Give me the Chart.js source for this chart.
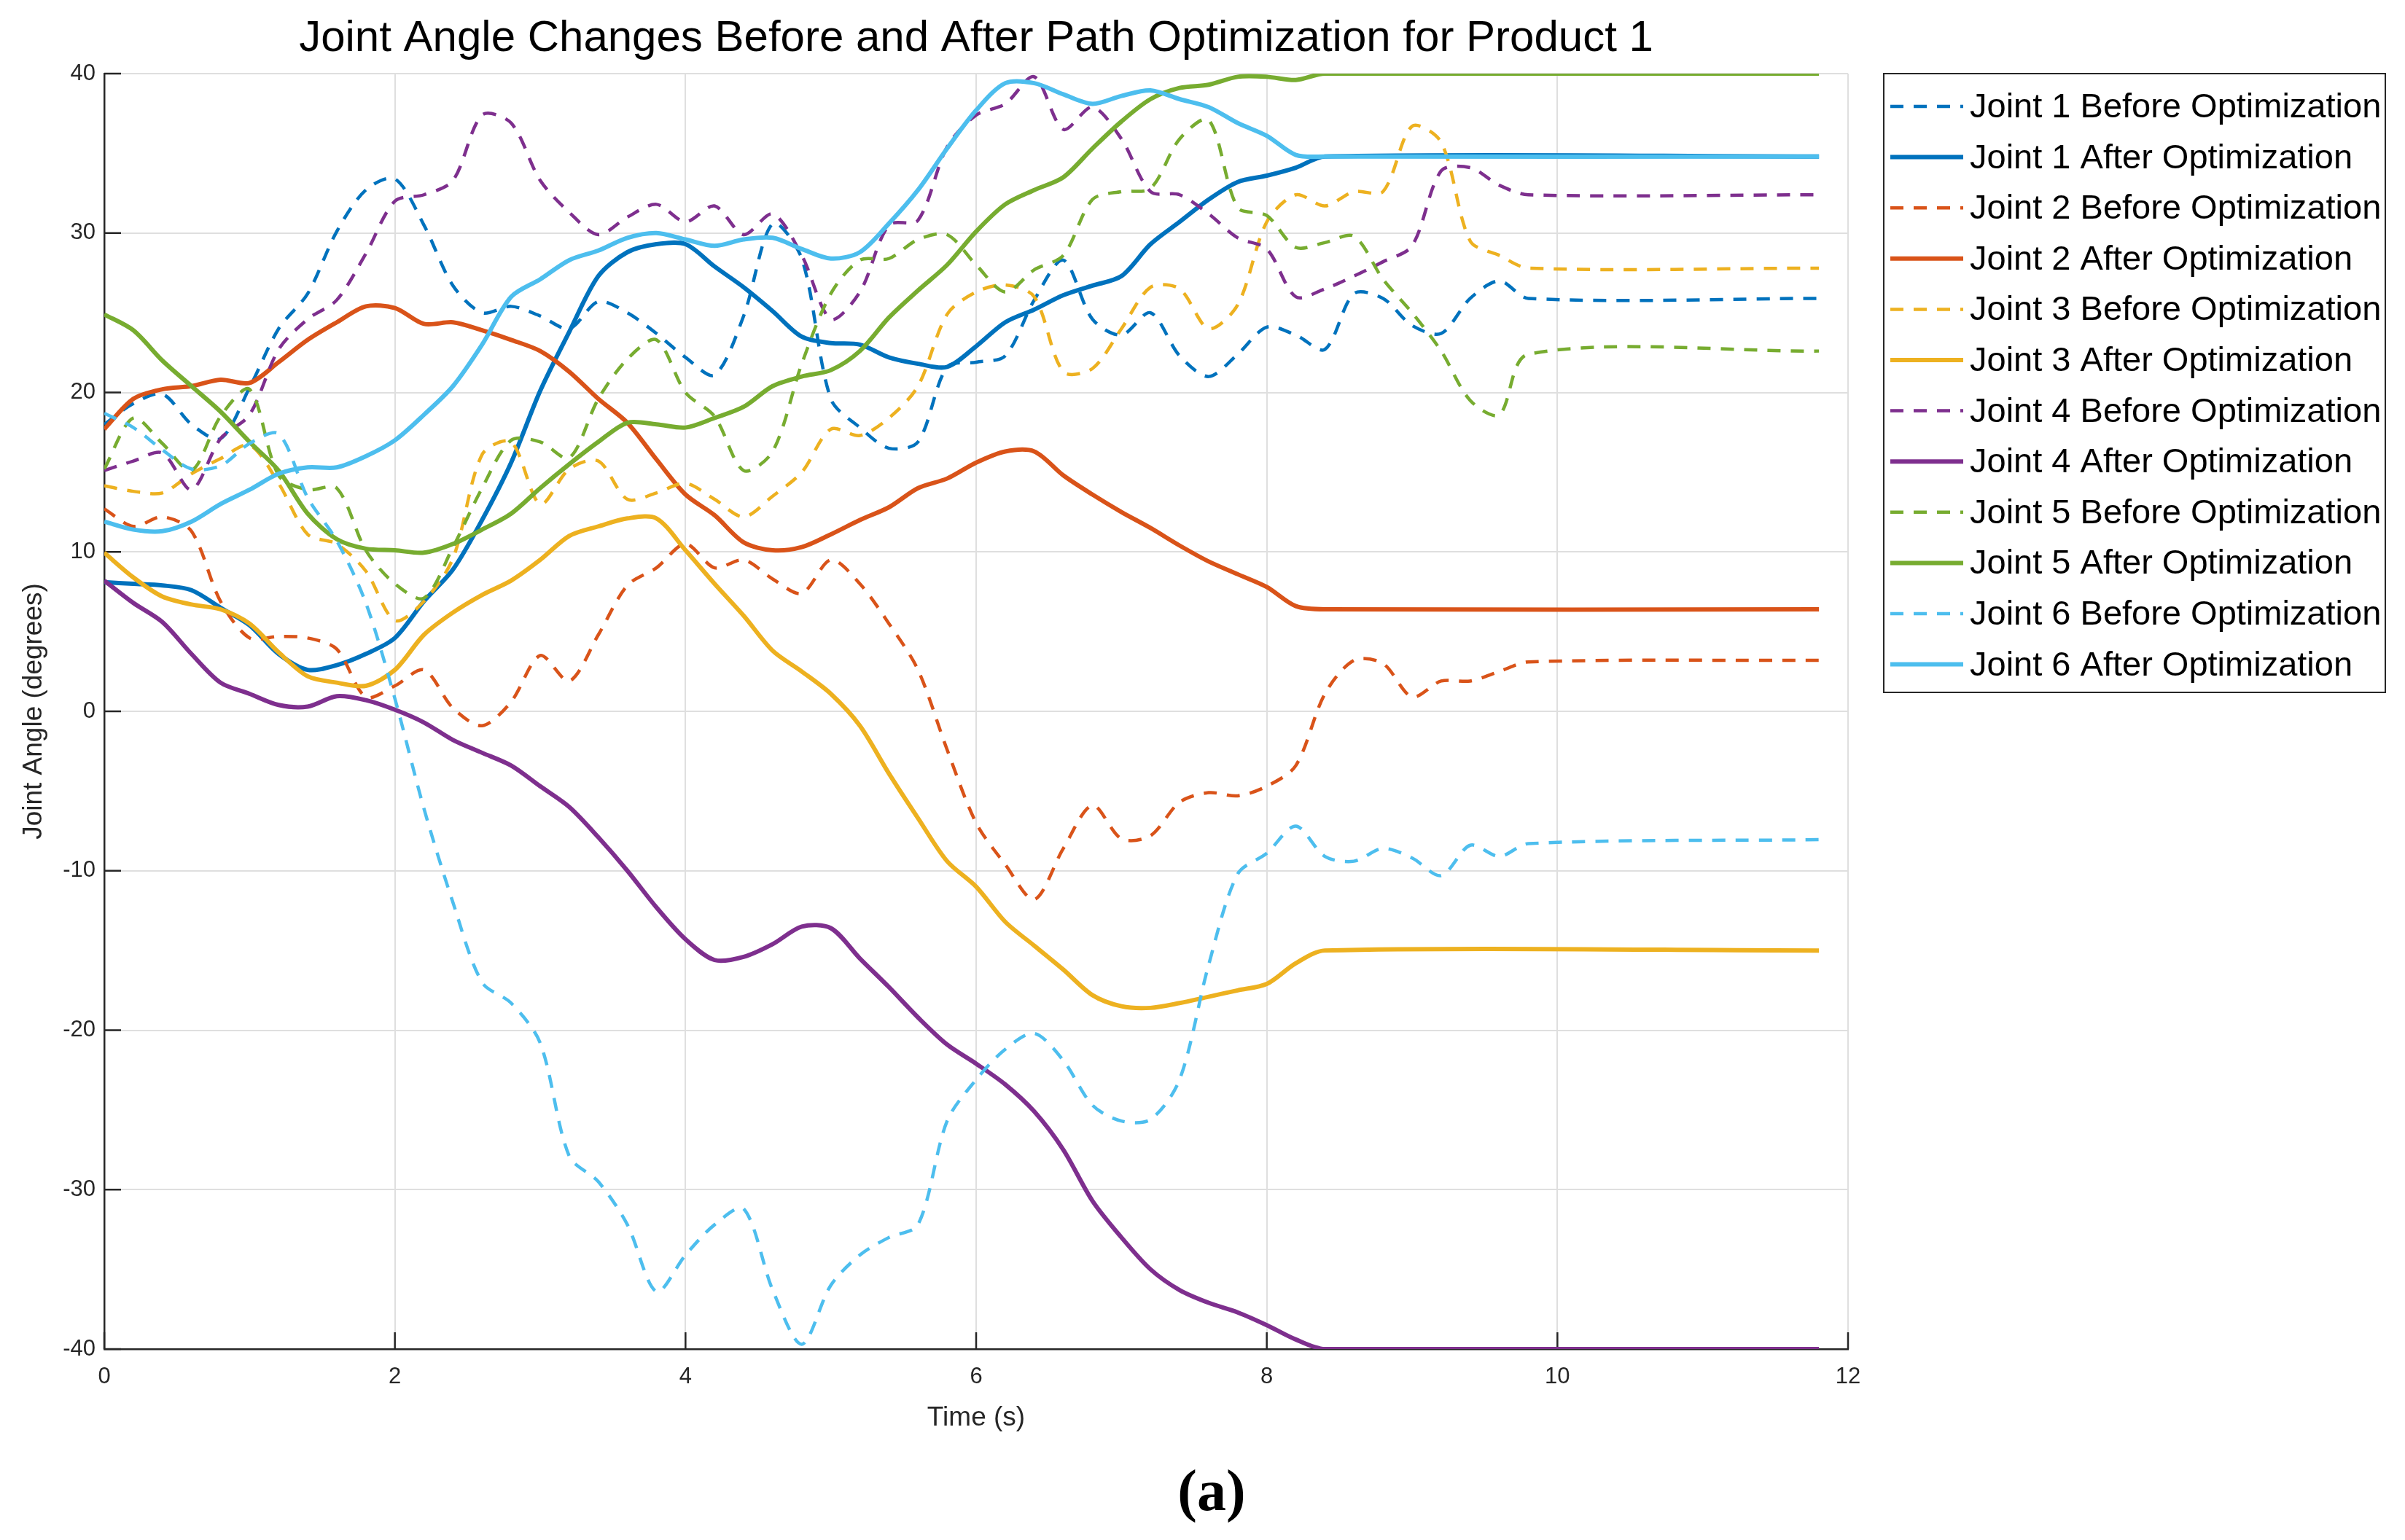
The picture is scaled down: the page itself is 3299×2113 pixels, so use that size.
<!DOCTYPE html>
<html>
<head>
<meta charset="utf-8">
<title>Joint Angle Changes</title>
<script src="https://cdn.jsdelivr.net/npm/chart.js@4.4.1/dist/chart.umd.min.js"></script>
<style>
  html, body { margin: 0; padding: 0; background: #fff; }
  canvas { display: block; }
</style>
</head>
<body>
<canvas id="jointChart" width="3299" height="2113"></canvas>
<script>
// time axis (s) - "before" runs are sampled until 9.8 s, "after" runs until 8.4 s, then both hold to the end
const timeBefore = [0, 0.2, 0.4, 0.6, 0.8, 1.0, 1.2, 1.4, 1.6, 1.8, 2.0, 2.2, 2.4, 2.6, 2.8, 3.0, 3.2, 3.4, 3.6, 3.8,
    4.0, 4.2, 4.4, 4.6, 4.8, 5.0, 5.2, 5.4, 5.6, 5.8, 6.0, 6.2, 6.4, 6.6, 6.8, 7.0, 7.2, 7.4, 7.6, 7.8,
    8.0, 8.2, 8.4, 8.6, 8.8, 9.0, 9.2, 9.4, 9.6, 9.8, 11.8];
const timeAfter = [0, 0.2, 0.4, 0.6, 0.8, 1.0, 1.2, 1.4, 1.6, 1.8, 2.0, 2.2, 2.4, 2.6, 2.8, 3.0, 3.2, 3.4, 3.6, 3.8,
    4.0, 4.2, 4.4, 4.6, 4.8, 5.0, 5.2, 5.4, 5.6, 5.8, 6.0, 6.2, 6.4, 6.6, 6.8, 7.0, 7.2, 7.4, 7.6, 7.8,
    8.0, 8.2, 8.4, 11.8];

// joint angles (degrees)
const joint1Before = [18.0, 19.3, 19.9, 18.0, 17.1, 20.3, 24.0, 26.2, 30.1, 32.7, 33.4, 30.5, 26.7, 25.0, 25.4, 24.8, 24.0, 25.7, 25.0, 23.7,
    22.2, 21.1, 24.8, 30.6, 28.4, 19.6, 17.8, 16.5, 16.9, 21.6, 21.9, 22.3, 25.8, 28.3, 24.6, 23.6, 25.0, 22.3, 21.0, 22.4,
    24.1, 23.6, 22.7, 26.2, 25.9, 24.2, 23.7, 25.9, 27.0, 25.9, 25.9];
const joint1After = [8.1, 8.0, 7.9, 7.6, 6.5, 5.4, 3.6, 2.6, 2.9, 3.6, 4.6, 6.9, 8.9, 12.0, 15.6, 20.1, 23.8, 27.3, 28.8, 29.3,
    29.3, 27.9, 26.6, 25.1, 23.5, 23.1, 23.0, 22.2, 21.8, 21.6, 22.9, 24.4, 25.2, 26.1, 26.7, 27.3, 29.3, 30.7, 32.1, 33.2,
    33.6, 34.1, 34.8, 34.8];
const joint2Before = [12.7, 11.6, 12.2, 11.3, 6.9, 4.6, 4.7, 4.6, 3.9, 0.9, 1.6, 2.6, 0.2, -0.9, 0.6, 3.5, 1.9, 4.8, 7.9, 9.0,
    10.5, 9.0, 9.5, 8.3, 7.4, 9.5, 8.0, 5.5, 2.6, -2.4, -7.0, -9.6, -11.8, -8.6, -5.9, -8.0, -7.8, -5.7, -5.1, -5.3,
    -4.7, -3.4, 1.1, 3.2, 3.0, 0.9, 1.9, 1.9, 2.5, 3.1, 3.2];
const joint2After = [17.7, 19.6, 20.2, 20.4, 20.8, 20.6, 21.9, 23.3, 24.4, 25.4, 25.3, 24.3, 24.4, 23.9, 23.3, 22.6, 21.3, 19.6, 18.1, 15.8,
    13.6, 12.3, 10.6, 10.1, 10.3, 11.1, 12.0, 12.8, 14.0, 14.6, 15.6, 16.3, 16.3, 14.8, 13.6, 12.5, 11.5, 10.4, 9.4, 8.6,
    7.8, 6.6, 6.4, 6.4];
const joint3Before = [14.15, 13.8, 13.7, 14.9, 15.85, 16.7, 14.3, 11.1, 10.5, 8.8, 5.7, 6.9, 9.6, 16.1, 16.9, 13.0, 15.2, 15.7, 13.3, 13.7,
    14.3, 13.3, 12.2, 13.5, 15.0, 17.7, 17.3, 18.4, 20.4, 24.9, 26.3, 26.75, 26.0, 21.3, 21.5, 24.0, 26.6, 26.5, 24.0, 25.5,
    30.7, 32.4, 31.7, 32.6, 32.6, 36.7, 35.7, 29.5, 28.6, 27.8, 27.8];
const joint3After = [9.95, 8.4, 7.2, 6.7, 6.4, 5.5, 3.7, 2.2, 1.8, 1.6, 2.6, 4.8, 6.2, 7.3, 8.2, 9.5, 11.0, 11.6, 12.1, 12.1,
    10.1, 8.0, 6.0, 3.8, 2.5, 1.1, -0.9, -3.9, -6.7, -9.4, -11.0, -13.2, -14.7, -16.2, -17.8, -18.5, -18.6, -18.3, -17.9, -17.5,
    -17.1, -15.8, -15.0, -15.0];
const joint4Before = [15.1, 15.7, 16.2, 13.9, 17.1, 18.6, 22.7, 24.6, 25.8, 28.7, 32.0, 32.4, 33.3, 37.4, 36.9, 33.3, 31.3, 29.9, 31.0, 31.8,
    30.7, 31.7, 29.9, 31.2, 28.6, 24.6, 26.3, 30.5, 30.8, 35.4, 37.4, 38.1, 39.8, 36.5, 37.9, 35.9, 32.6, 32.4, 31.2, 29.7,
    29.0, 26.0, 26.5, 27.3, 28.2, 29.2, 33.9, 34.1, 33.0, 32.4, 32.4];
const joint4After = [8.2, 6.8, 5.6, 3.6, 1.8, 1.1, 0.4, 0.3, 0.95, 0.7, 0.1, -0.7, -1.8, -2.6, -3.4, -4.7, -6.0, -7.9, -10.0, -12.3,
    -14.3, -15.6, -15.4, -14.6, -13.5, -13.6, -15.5, -17.3, -19.2, -20.9, -22.1, -23.4, -25.1, -27.5, -30.7, -33.0, -35.0, -36.3, -37.1, -37.7,
    -38.5, -39.4, -40.0, -40.0];
const joint5Before = [15.2, 18.4, 16.8, 15.1, 18.5, 20.2, 14.8, 13.9, 14.0, 10.1, 8.0, 7.1, 10.3, 14.0, 17.0, 16.9, 15.9, 19.6, 22.1, 23.3,
    20.0, 18.5, 15.1, 16.3, 21.8, 26.2, 28.3, 28.4, 29.6, 29.9, 28.0, 26.3, 27.7, 28.6, 32.1, 32.6, 32.8, 35.9, 37.1, 31.6,
    31.1, 29.1, 29.4, 29.8, 27.1, 25.0, 22.6, 19.5, 18.6, 22.4, 22.6];
const joint5After = [24.9, 23.9, 22.0, 20.4, 18.8, 16.9, 15.1, 12.4, 10.8, 10.2, 10.1, 9.95, 10.5, 11.4, 12.4, 14.0, 15.5, 16.9, 18.1, 18.0,
    17.8, 18.4, 19.1, 20.4, 21.0, 21.4, 22.6, 24.7, 26.4, 28.0, 30.1, 31.8, 32.7, 33.5, 35.3, 37.0, 38.4, 39.1, 39.3, 39.8,
    39.8, 39.6, 40.0, 40.0];
const joint6Before = [18.7, 17.8, 16.4, 15.2, 15.4, 16.8, 17.4, 13.4, 10.7, 6.8, 0.8, -6.1, -12.0, -17.0, -18.3, -20.8, -27.9, -29.5, -32.2, -36.4,
    -34.1, -32.2, -31.2, -36.3, -39.7, -36.0, -34.1, -33.0, -32.2, -25.7, -23.1, -21.2, -20.2, -21.9, -24.7, -25.7, -25.6, -23.1, -15.9, -10.2,
    -8.9, -7.2, -9.1, -9.4, -8.6, -9.2, -10.3, -8.4, -9.1, -8.3, -8.05];
const joint6After = [11.9, 11.4, 11.3, 11.9, 13.0, 13.9, 14.9, 15.3, 15.3, 16.0, 17.0, 18.6, 20.4, 23.0, 26.0, 27.1, 28.3, 28.9, 29.7, 30.0,
    29.6, 29.2, 29.6, 29.7, 29.0, 28.4, 28.8, 30.6, 32.7, 35.3, 37.7, 39.4, 39.4, 38.7, 38.1, 38.6, 38.95, 38.4, 37.9, 36.9,
    36.1, 34.9, 34.8, 34.8];

const seriesLabels = [
    'Joint 1 Before Optimization', 'Joint 1 After Optimization',
    'Joint 2 Before Optimization', 'Joint 2 After Optimization',
    'Joint 3 Before Optimization', 'Joint 3 After Optimization',
    'Joint 4 Before Optimization', 'Joint 4 After Optimization',
    'Joint 5 Before Optimization', 'Joint 5 After Optimization',
    'Joint 6 Before Optimization', 'Joint 6 After Optimization'
];
const xTicks = [0, 2, 4, 6, 8, 10, 12];
const yTicks = [-40, -30, -20, -10, 0, 10, 20, 30, 40];

// MATLAB default line colours, one per joint
const jointColors = ['#0072BD', '#D95319', '#EDB120', '#7E2F8E', '#77AC30', '#4DBEEE'];

const FONT = '"Liberation Sans", Arial, Helvetica, sans-serif';
const AXIS_COLOR = '#262626';

const toPoints = (times, values) => times.map((t, i) => ({ x: t, y: values[i] }));

const seriesValues = [
    joint1Before, joint1After, joint2Before, joint2After, joint3Before, joint3After,
    joint4Before, joint4After, joint5Before, joint5After, joint6Before, joint6After
];

const datasets = seriesValues.map((values, i) => {
    const before = i % 2 === 0;
    return {
        label: seriesLabels[i],
        data: toPoints(before ? timeBefore : timeAfter, values),
        borderColor: jointColors[Math.floor(i / 2)],
        borderWidth: before ? 4.5 : 6,
        borderDash: before ? [18, 14] : [],
        pointRadius: 0,
        tension: 0.3,
        fill: false,
        order: -i // later series on top, like MATLAB
    };
});

// ticks pointing into the plot (MATLAB style), drawn under the data
const innerTicks = {
    id: 'innerTicks',
    beforeDatasetsDraw(chart) {
        const { ctx, chartArea, scales } = chart;
        ctx.save();
        ctx.strokeStyle = AXIS_COLOR;
        ctx.lineWidth = 2.5;
        ctx.beginPath();
        yTicks.forEach(v => {
            const py = scales.y.getPixelForValue(v);
            ctx.moveTo(chartArea.left, py);
            ctx.lineTo(chartArea.left + 23, py);
        });
        xTicks.forEach(v => {
            const px = scales.x.getPixelForValue(v);
            ctx.moveTo(px, chartArea.bottom);
            ctx.lineTo(px, chartArea.bottom - 23);
        });
        ctx.stroke();
        ctx.restore();
    }
};

// boxed legend to the right of the axes plus the "(a)" caption
const boxLegend = {
    id: 'boxLegend',
    afterDraw(chart) {
        const { ctx, chartArea } = chart;
        const x0 = chartArea.right + 49;
        const y0 = chartArea.top;
        const rowH = 69.6;
        ctx.save();
        ctx.strokeStyle = AXIS_COLOR;
        ctx.lineWidth = 2;
        ctx.strokeRect(x0, y0, 688, 849);
        ctx.font = '47px ' + FONT;
        ctx.textBaseline = 'middle';
        ctx.textAlign = 'left';
        chart.data.datasets.forEach((ds, i) => {
            const y = y0 + 45 + i * rowH;
            ctx.strokeStyle = ds.borderColor;
            ctx.lineWidth = ds.borderWidth;
            ctx.setLineDash(ds.borderDash);
            ctx.beginPath();
            ctx.moveTo(x0 + 9, y);
            ctx.lineTo(x0 + 109, y);
            ctx.stroke();
            ctx.setLineDash([]);
            ctx.fillStyle = '#000';
            ctx.fillText(ds.label, x0 + 118, y + 2);
        });

        ctx.font = 'bold 80px "Liberation Serif", "Times New Roman", serif';
        ctx.textAlign = 'center';
        ctx.fillStyle = '#000';
        ctx.fillText('(a)', 1662, 2051);
        ctx.restore();
    }
};

const ctx = document.getElementById('jointChart').getContext('2d');

new Chart(ctx, {
    type: 'line',
    data: { datasets },
    plugins: [innerTicks, boxLegend],
    options: {
        responsive: false,
        devicePixelRatio: 1,
        animation: false,
        events: [],
        layout: {
            padding: { left: 0, right: 764, top: 0, bottom: 132 }
        },
        plugins: {
            legend: { display: false },
            tooltip: { enabled: false },
            title: {
                display: true,
                fullSize: false,
                text: 'Joint Angle Changes Before and After Path Optimization for Product 1',
                color: '#000',
                font: { family: FONT, size: 60, weight: 'normal', lineHeight: 1.2 },
                padding: { top: 17, bottom: 12 }
            }
        },
        scales: {
            x: {
                type: 'linear',
                min: 0,
                max: 12,
                afterBuildTicks: scale => { scale.ticks = xTicks.map(v => ({ value: v })); },
                afterFit: scale => { scale.height = 130; },
                ticks: {
                    color: AXIS_COLOR,
                    font: { family: FONT, size: 31 },
                    padding: 20,
                    maxRotation: 0
                },
                grid: { color: '#DFDFDF', lineWidth: 2, drawTicks: false },
                border: { display: true, color: AXIS_COLOR, width: 2.5 },
                title: {
                    display: true,
                    text: 'Time (s)',
                    color: AXIS_COLOR,
                    font: { family: FONT, size: 37, lineHeight: 1.2 },
                    padding: { top: 0, bottom: 13 }
                }
            },
            y: {
                type: 'linear',
                min: -40,
                max: 40,
                afterBuildTicks: scale => { scale.ticks = yTicks.map(v => ({ value: v })); },
                afterFit: scale => { scale.width = 143; },
                ticks: {
                    color: AXIS_COLOR,
                    font: { family: FONT, size: 31 },
                    padding: 12
                },
                grid: { color: '#DFDFDF', lineWidth: 2, drawTicks: false },
                border: { display: true, color: AXIS_COLOR, width: 2.5 },
                title: {
                    display: true,
                    text: 'Joint Angle (degrees)',
                    color: AXIS_COLOR,
                    font: { family: FONT, size: 37, lineHeight: 1.2 },
                    padding: { top: 25, bottom: 0 }
                }
            }
        }
    }
});
</script>
</body>
</html>
